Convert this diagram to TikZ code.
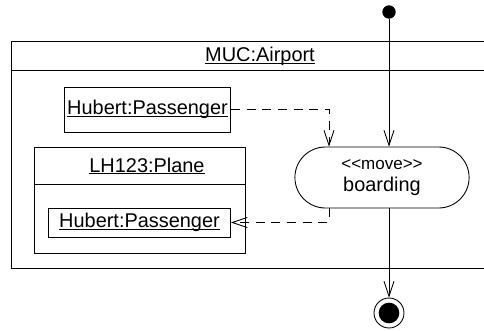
\documentclass[tikz,border=0pt]{standalone}
\usepackage{fontspec}
\setmainfont{Liberation Sans}
\usetikzlibrary{arrows.meta,positioning,shapes.misc}
\newcommand{\objname}[1]{\underline{\smash{#1}}\vphantom{#1}}
\tikzset{
 umlbox/.style={rectangle,draw=black,line width=0.75pt,inner sep=0pt,font=\fontsize{17}{20}\selectfont},
 action/.style={rounded rectangle,draw=black,line width=0.75pt,minimum width=5.46cm,minimum height=1.83cm,align=center,font=\fontsize{17}{20}\selectfont},
 initial/.style={circle,fill=black,inner sep=0pt,minimum size=0.4cm},
 final/.style={circle,draw=black,line width=0.75pt,inner sep=0pt,minimum size=0.9cm,path picture={\fill[black] (path picture bounding box.center) circle (0.31cm);}},
 label/.style={font=\fontsize{17}{20}\selectfont,inner sep=0pt},
 flow/.style={-{Straight Barb[length=0.45cm,width=0.3cm]},line width=0.75pt},
 objflow/.style={flow,dash pattern=on 0.27cm off 0.2cm}}
\begin{document}
\begin{tikzpicture}[x=0.03cm,y=-0.03cm]
\useasboundingbox[fill=white] (0,0) rectangle (484,330);
\clip (0,0) rectangle (484,330);
% partition
\node[umlbox,minimum width=14.94cm,minimum height=6.81cm] (airport) at (260,154.5) {};
\draw[line width=0.75pt] ([yshift=-0.9cm]airport.north west) -- ([yshift=-0.9cm]airport.north east);
\node[label] (airporttitle) at (260,56) {\objname{MUC:Airport}};
% objects
\node[umlbox,minimum width=4.98cm,minimum height=1.35cm] (pass1) at (147.5,109.5) {\objname{Hubert:Passenger}};
\node[umlbox,minimum width=6.33cm,minimum height=3.18cm] (plane) at (139.5,200) {};
\draw[line width=0.75pt] ([yshift=-1.14cm]plane.north west) -- ([yshift=-1.14cm]plane.north east);
\node[label] (planetitle) at (147,166) {\objname{LH123:Plane}};
\node[umlbox,minimum width=5.46cm,minimum height=0.87cm] (pass2) at (139.5,222.5) {\objname{Hubert:Passenger}};
% activity
\node[action] (boarding) at (382,177.5) {{\fontsize{14.5}{16}\selectfont <\kern0pt<move>\kern0pt>}\\[-1pt]boarding};
\node[initial] (start) at (389,12) {};
\node[final] (end) at (389,313) {};
\coordinate (objx) at (329,177.5);
% flows
\draw[flow] (start) -- (start |- boarding.north);
\draw[flow] (start |- boarding.south) -- (end);
\draw[objflow] (pass1.east) -| (objx |- boarding.north);
\draw[objflow] (objx |- boarding.south) |- (pass2.east);
\end{tikzpicture}
\end{document}
